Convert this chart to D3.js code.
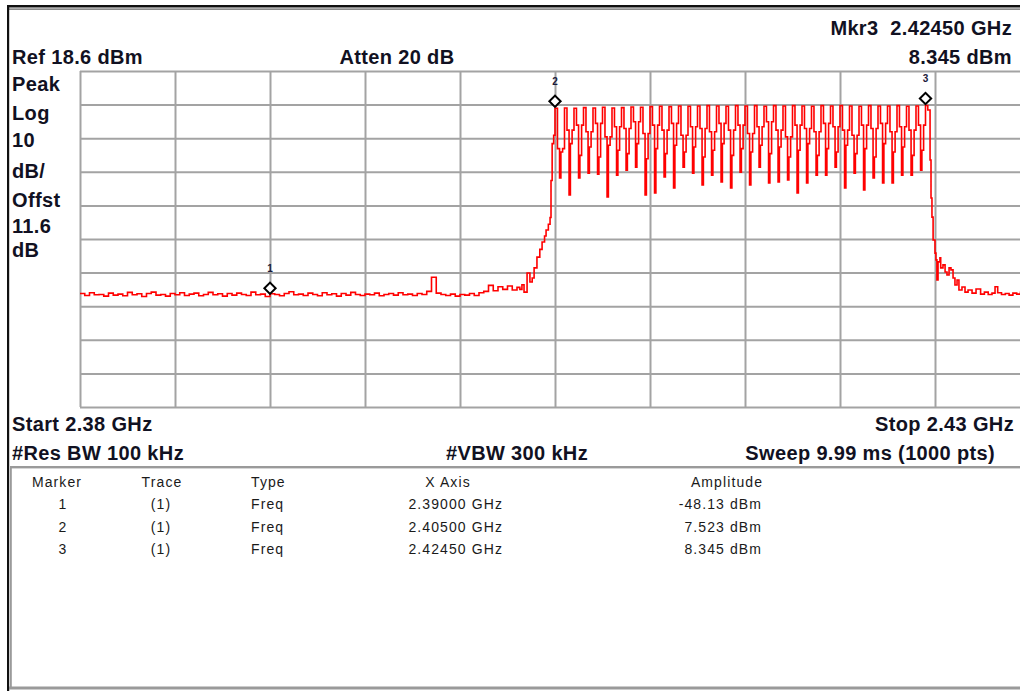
<!DOCTYPE html>
<html>
<head>
<meta charset="utf-8">
<script src="https://cdn.jsdelivr.net/npm/d3@7"></script>
<style>
  html, body { margin: 0; padding: 0; background: #ffffff; }
  svg { display: block; }
  text { font-family: "Liberation Sans", Arial, sans-serif; }
</style>
</head>
<body>
<svg id="chart" width="1020" height="693"></svg>
<script>
// ---------------- data ----------------
const startMHz = 2380, stopMHz = 2430;
const refLevel = 18.6, dbPerDiv = 10, divisions = 10;

const headerLeft = ["Peak", "Log", "10", "dB/", "Offst", "11.6", "dB"];

// noise floor left of the band, sampled every 0.25 MHz from 2380 MHz
const floorStart = 2380, floorStep = 0.25;
const leftLevels = [
  -47.6,-48.2,-47.4,-48.0,-47.9,-48.4,-47.5,-48.1,-47.8,-48.3,
  -47.3,-48.0,-47.7,-48.5,-47.6,-47.2,-48.1,-47.9,-48.4,-47.6,
  -48.0,-47.4,-48.2,-47.8,-47.5,-48.3,-47.9,-47.3,-48.0,-47.7,
  -48.4,-47.6,-48.1,-47.5,-47.9,-48.2,-47.2,-48.0,-47.8,-48.5,
  -47.7,-47.9,-48.3,-47.6,-47.1,-48.0,-47.8,-48.2,-47.5,-47.9,
  -48.3,-47.4,-48.0,-47.7,-48.4,-47.6,-48.1,-47.3,-47.9,-48.2,
  -47.8,-48.0,-47.5,-48.3,-47.9,-47.6,-48.1,-47.4,-48.0,-47.8,
  -48.2,-47.6,-47.9,-47.0,-42.8,-47.5,-47.9,-48.2,-47.8,-48.4,
  -47.9,-48.1,-47.6,-48.2,-47.4,-47.0,-45.2,-46.8,-45.6,-46.4,
  -45.4,-46.6
];

// skirt rising into the band
const riseFreq  = [2403.0, 2403.15, 2403.26, 2403.37, 2403.53, 2403.68, 2403.8, 2403.9, 2404.05, 2404.2, 2404.32, 2404.45, 2404.53, 2404.65, 2404.74, 2404.79, 2404.85, 2404.93];
const riseLevel = [-45.8, -46.4, -45.0, -47.2, -41.5, -44.2, -43.0, -40.0, -36.8, -34.5, -32.3, -30.5, -28.7, -27.0, -25.0, -14.0, -3.0, -0.5];

// in-band comb: one peak every 0.5 MHz from 2405 MHz
const combStart = 2405, combSpacing = 0.5;
const combPeak = [7.5, 7.6, 7.5, 7.7, 7.6, 7.8, 7.6, 7.7, 7.9, 7.8,
                  8.0, 8.1, 8.0, 8.2, 8.1, 8.2, 8.3, 8.2, 8.1, 8.3,
                  8.2, 8.3, 8.1, 8.3, 8.2, 8.3, 8.2, 8.1, 8.3, 8.2,
                  8.3, 8.2, 8.1, 8.3, 8.2, 8.2, 8.3, 8.1, 8.2, 8.345];
// step after each peak
const combMid  = [-4.5, 1.0, 2.5, 0.5, 3.0, -1.0, 2.0, 1.5, 3.5, 0.0,
                  2.5, 1.0, 3.0, -0.5, 2.0, 1.5, 0.5, 3.0, 1.0, 2.5,
                  0.0, 2.0, 3.5, 1.0, -1.0, 2.5, 1.5, 0.5, 3.0, 2.0,
                  1.0, -0.5, 2.5, 1.5, 3.0, 0.5, 2.0, 1.0, 2.5];
// bottom of each notch
const combDip  = [-13.2, -18.3, -13.2, -11.8, -12.1, -18.9, -12.4, -10.9, -10.0, -18.3,
                  -17.7, -12.9, -16.2, -10.0, -11.8, -15.3, -12.4, -14.4, -16.2, -11.5,
                  -15.3, -10.0, -14.7, -14.4, -13.8, -17.7, -14.7, -12.4, -12.4, -10.0,
                  -16.2, -11.8, -16.8, -13.2, -14.7, -14.7, -12.4, -12.4, -10.9];
// step on the way back up to the next peak
const combShoulder = [-5.5, -3.0, -6.5, -4.0, -7.0, -3.5, -5.0, -6.0, -3.0, -7.5,
                      -4.5, -6.0, -3.5, -5.5, -4.0, -7.0, -5.0, -3.0, -6.5, -4.5,
                      -5.5, -3.5, -6.0, -4.0, -7.0, -5.0, -3.0, -6.5, -4.5, -5.5,
                      -3.5, -6.0, -4.5, -7.0, -3.0, -5.5, -4.0, -6.5, -5.0];

// skirt falling out of the band and right-hand floor
const fallFreq  = [2424.62, 2424.74, 2424.79, 2424.84, 2424.9, 2425.0, 2425.05, 2425.1, 2425.16, 2425.26,
                   2425.3, 2425.42, 2425.53, 2425.63, 2425.74, 2425.84, 2425.95, 2426.05, 2426.16, 2426.26,
                   2426.42, 2426.58, 2426.74, 2426.95, 2427.16, 2427.4, 2427.6, 2427.8, 2428.0, 2428.16,
                   2428.3, 2428.5, 2428.7, 2428.9, 2429.1, 2429.3, 2429.5, 2429.7, 2430.0];
const fallLevel = [7.0, -7.9, -19.2, -24.9, -31.7, -35.6, -37.6, -43.6, -38.2, -37.0,
                   -40.0, -39.1, -41.2, -42.1, -40.0, -40.6, -43.0, -45.1, -43.6, -46.6,
                   -45.7, -47.2, -46.6, -47.5, -46.3, -47.8, -47.2, -47.9, -47.5, -45.6,
                   -47.4, -47.9, -47.6, -48.1, -47.5, -47.8, -47.3, -47.9, -47.6];

// markers
const markerNum  = [1, 2, 3];
const markerFreq = [2390.0, 2405.0, 2424.5];
const markerAmp  = [-48.13, 7.523, 8.345];
const markerTrace = ["(1)", "(1)", "(1)"];
const markerType  = ["Freq", "Freq", "Freq"];
const markerXText = ["2.39000 GHz", "2.40500 GHz", "2.42450 GHz"];
const markerAText = ["-48.13 dBm", "7.523 dBm", "8.345 dBm"];

// ---------------- drawing ----------------
const svg = d3.select("#chart");
const plot = { left: 80, right: 1030, top: 71, bottom: 407 };

const x = d3.scaleLinear().domain([startMHz, stopMHz]).range([plot.left, plot.right]);
const y = d3.scaleLinear().domain([refLevel - dbPerDiv * divisions, refLevel]).range([plot.bottom, plot.top]);

const gridColor = "#a3a3a3";
const textColor = "#111122";

// frame
svg.append("rect").attr("x", 7).attr("y", 5).attr("width", 1013).attr("height", 2.5).attr("fill", "#111");
svg.append("rect").attr("x", 7).attr("y", 8.3).attr("width", 1013).attr("height", 1.7).attr("fill", "#8a8a8a");
svg.append("rect").attr("x", 7).attr("y", 5).attr("width", 2.2).attr("height", 686).attr("fill", "#111");
svg.append("rect").attr("x", 10).attr("y", 466).attr("width", 1010).attr("height", 2.4).attr("fill", "#9a9a9a");
svg.append("rect").attr("x", 10).attr("y", 467).attr("width", 1.8).attr("height", 222).attr("fill", "#9a9a9a");
svg.append("rect").attr("x", 9).attr("y", 686.5).attr("width", 1011).attr("height", 3).attr("fill", "#9a9a9a");

// grid
const xTicks = d3.range(0, divisions + 1).map(k => startMHz + k * (stopMHz - startMHz) / divisions);
const yTicks = d3.range(0, divisions + 1).map(k => refLevel - k * dbPerDiv);

const gx = svg.append("g")
  .attr("transform", `translate(0,${plot.bottom})`)
  .call(d3.axisBottom(x).tickValues(xTicks).tickSize(-(plot.bottom - plot.top)).tickFormat(""));
const gy = svg.append("g")
  .attr("transform", `translate(${plot.left},0)`)
  .call(d3.axisLeft(y).tickValues(yTicks).tickSize(-(plot.right - plot.left)).tickFormat(""));
[gx, gy].forEach(g => {
  g.select(".domain").remove();
  g.selectAll(".tick line").attr("stroke", gridColor).attr("stroke-width", 2);
});

// trace
const pts = [];
leftLevels.forEach((v, i) => pts.push([floorStart + i * floorStep, v]));
riseFreq.forEach((f, i) => pts.push([f, riseLevel[i]]));
combPeak.forEach((pk, i) => {
  const p = combStart + i * combSpacing;
  pts.push([p, pk]);
  if (i < combDip.length) {
    pts.push([p + 0.13, combMid[i]]);
    pts.push([p + 0.24, combDip[i]]);
    pts.push([p + 0.31, combShoulder[i]]);
    pts.push([p + 0.40, combMid[i]]);
  }
});
fallFreq.forEach((f, i) => pts.push([f, fallLevel[i]]));

svg.append("clipPath").attr("id", "plotClip")
  .append("rect").attr("x", plot.left).attr("y", plot.top)
  .attr("width", plot.right - plot.left).attr("height", plot.bottom - plot.top);

const line = d3.line().x(d => x(d[0])).y(d => y(d[1])).curve(d3.curveStepAfter);
svg.append("path")
  .datum(pts)
  .attr("clip-path", "url(#plotClip)")
  .attr("fill", "none")
  .attr("stroke", "#ff0000")
  .attr("stroke-width", 1.6)
  .attr("d", line);

// markers
const mk = svg.append("g").selectAll("g").data(markerNum).join("g")
  .attr("transform", (d, i) => `translate(${x(markerFreq[i])},${y(markerAmp[i]) - 7})`);
mk.append("path")
  .attr("d", d3.symbol(d3.symbolSquare, 64)())
  .attr("transform", "rotate(45)")
  .attr("fill", "#fff")
  .attr("stroke", "#000")
  .attr("stroke-width", 2);
mk.append("text")
  .attr("y", -16)
  .attr("text-anchor", "middle")
  .attr("font-size", 10)
  .attr("font-weight", "bold")
  .attr("fill", "#1a1a3a")
  .text(d => d);

// header texts
function label(txt, xx, yy, anchor, size, weight) {
  return svg.append("text")
    .attr("x", xx).attr("y", yy)
    .attr("text-anchor", anchor || "start")
    .attr("font-size", size || 20)
    .attr("font-weight", weight || "bold")
    .attr("letter-spacing", 0.35)
    .attr("fill", textColor)
    .style("white-space", "pre")
    .text(txt);
}
label("Ref 18.6 dBm", 12, 64);
label("Atten 20 dB", 397, 64, "middle");
label("Mkr3  2.42450 GHz", 1012, 35, "end");
label("8.345 dBm", 1012, 64, "end");

const leftBaselines = [91, 120, 147, 178, 207, 233, 257];
headerLeft.forEach((t, i) => label(t, 12, leftBaselines[i]));

label("Start 2.38 GHz", 12, 431);
label("Stop 2.43 GHz", 1014, 431, "end");
label("#Res BW 100 kHz", 12, 460);
label("#VBW 300 kHz", 517, 460, "middle");
label("Sweep 9.99 ms (1000 pts)", 995, 460, "end");

// marker table
const tableFont = 14;
function tcell(txt, xx, yy, anchor) {
  return svg.append("text")
    .attr("x", xx).attr("y", yy)
    .attr("text-anchor", anchor)
    .attr("font-size", tableFont)
    .attr("letter-spacing", 1.1)
    .attr("fill", "#1a1a1a")
    .text(txt);
}
const headY = 487, rowY = [509, 532, 554];
tcell("Marker", 57, headY, "middle");
tcell("Trace", 162, headY, "middle");
tcell("Type", 251, headY, "start");
tcell("X Axis", 448, headY, "middle");
tcell("Amplitude", 727, headY, "middle");
markerNum.forEach((m, i) => {
  tcell(String(m), 63, rowY[i], "middle");
  tcell(markerTrace[i], 161, rowY[i], "middle");
  tcell(markerType[i], 251, rowY[i], "start");
  tcell(markerXText[i], 503, rowY[i], "end");
  tcell(markerAText[i], 762, rowY[i], "end");
});
</script>
</body>
</html>
